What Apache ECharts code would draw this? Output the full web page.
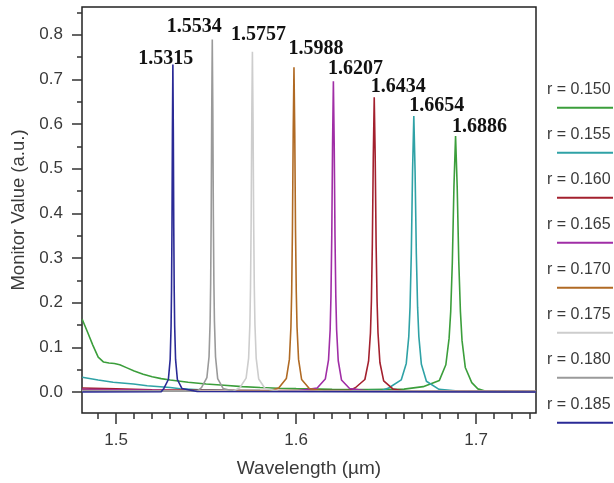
<!DOCTYPE html>
<html>
<head>
<meta charset="utf-8">
<script src="https://cdn.jsdelivr.net/npm/echarts@6/dist/echarts.min.js"></script>
<style>
html,body{margin:0;padding:0;background:#fff;}
#chart{width:614px;height:483px;}
</style>
</head>
<body>
<div id="chart"></div>
<script>
// ---------------- data ----------------
const seriesNames = ['r = 0.150','r = 0.155','r = 0.160','r = 0.165','r = 0.170','r = 0.175','r = 0.180','r = 0.185'];
const peakLabels  = ['1.6886','1.6654','1.6434','1.6207','1.5988','1.5757','1.5534','1.5315'];
const xTickLabels = [1.5, 1.6, 1.7];
const xMinorTicks = [1.49,1.51,1.52,1.53,1.54,1.55,1.56,1.57,1.58,1.59,1.61,1.62,1.63,1.64,1.65,1.66,1.67,1.68,1.69,1.71,1.72,1.73];
const yTickLabels = [0.0,0.1,0.2,0.3,0.4,0.5,0.6,0.7,0.8];
const yMinorTicks = [0.05,0.15,0.25,0.35,0.45,0.55,0.65,0.75,0.85];

const r150 = [[1.4811,0.163],[1.4840,0.135],[1.4870,0.105],[1.4900,0.078],[1.4930,0.067],[1.4960,0.065],[1.4990,0.064],[1.5020,0.061],[1.5060,0.054],[1.5100,0.047],[1.5150,0.040],[1.5200,0.034],[1.5250,0.030],[1.5300,0.027],[1.5400,0.022],[1.5500,0.018],[1.5600,0.015],[1.5700,0.012],[1.5800,0.010],[1.5900,0.0085],[1.6000,0.0075],[1.6200,0.006],[1.6400,0.0055],[1.6600,0.0065],[1.6706,0.012],[1.6796,0.026],[1.6832,0.061],[1.6850,0.12],[1.6859,0.18],[1.6868,0.29],[1.6877,0.46],[1.6886,0.573],[1.6895,0.46],[1.6904,0.29],[1.6913,0.18],[1.6922,0.115],[1.6940,0.055],[1.6976,0.021],[1.7010,0.007],[1.7050,0.002],[1.7100,0.001],[1.7333,0.001]];
const r155 = [[1.4811,0.033],[1.4900,0.027],[1.4983,0.022],[1.5096,0.018],[1.5172,0.014],[1.5300,0.010],[1.5356,0.0074],[1.5467,0.005],[1.5600,0.004],[1.5800,0.003],[1.6000,0.0025],[1.6200,0.0025],[1.6400,0.003],[1.6480,0.004],[1.6514,0.009],[1.6584,0.027],[1.6612,0.064],[1.6626,0.124],[1.6633,0.19],[1.6640,0.309],[1.6647,0.494],[1.6654,0.618],[1.6661,0.494],[1.6668,0.309],[1.6675,0.19],[1.6682,0.124],[1.6696,0.062],[1.6724,0.024],[1.6794,0.006],[1.6900,0.002],[1.7333,0.001]];
const r160 = [[1.4811,0.009],[1.5000,0.007],[1.5200,0.005],[1.5500,0.004],[1.5800,0.003],[1.6000,0.003],[1.6200,0.003],[1.6300,0.004],[1.6329,0.0095],[1.6382,0.028],[1.64025,0.069],[1.6413,0.132],[1.64183,0.203],[1.64235,0.33],[1.64288,0.528],[1.6434,0.66],[1.64393,0.528],[1.64445,0.33],[1.64498,0.203],[1.6455,0.132],[1.64655,0.066],[1.64865,0.025],[1.6539,0.0065],[1.6600,0.002],[1.7333,0.001]];
const r165 = [[1.4811,0.006],[1.5000,0.005],[1.5300,0.003],[1.5600,0.002],[1.6000,0.002],[1.6117,0.009],[1.6162,0.029],[1.6180,0.072],[1.6189,0.139],[1.61935,0.214],[1.6198,0.348],[1.62025,0.557],[1.6207,0.696],[1.62115,0.557],[1.6216,0.348],[1.62205,0.214],[1.6225,0.139],[1.6234,0.07],[1.6252,0.027],[1.6297,0.008],[1.6400,0.002],[1.7333,0.001]];
const r170 = [[1.4811,0.003],[1.5500,0.002],[1.5850,0.002],[1.5903,0.009],[1.59455,0.03],[1.59625,0.073],[1.5971,0.145],[1.59753,0.224],[1.59795,0.364],[1.59838,0.582],[1.5988,0.727],[1.59923,0.582],[1.59965,0.364],[1.60008,0.224],[1.6005,0.145],[1.60135,0.073],[1.60305,0.028],[1.6073,0.008],[1.6150,0.002],[1.7333,0.001]];
const r175 = [[1.4811,0.002],[1.5650,0.002],[1.5687,0.0095],[1.5722,0.031],[1.5736,0.076],[1.5743,0.152],[1.57465,0.235],[1.5750,0.381],[1.57535,0.61],[1.5757,0.762],[1.57605,0.61],[1.5764,0.381],[1.57675,0.235],[1.5771,0.152],[1.5778,0.076],[1.5792,0.029],[1.5827,0.008],[1.5900,0.002],[1.7333,0.001]];
const r180 = [[1.4811,0.002],[1.5450,0.002],[1.5474,0.0098],[1.5504,0.032],[1.5516,0.079],[1.5522,0.158],[1.5525,0.243],[1.5528,0.395],[1.5531,0.631],[1.5534,0.789],[1.5537,0.631],[1.5540,0.395],[1.5543,0.243],[1.5546,0.158],[1.5552,0.079],[1.5564,0.03],[1.5594,0.008],[1.5650,0.002],[1.7333,0.001]];
const r185 = [[1.4811,0.0],[1.5250,0.0005],[1.5265,0.008],[1.5290,0.028],[1.5300,0.073],[1.5305,0.147],[1.53075,0.226],[1.5310,0.367],[1.53125,0.586],[1.5315,0.733],[1.53175,0.586],[1.5320,0.367],[1.53225,0.226],[1.5325,0.147],[1.5330,0.073],[1.5340,0.028],[1.5365,0.008],[1.5450,0.001],[1.7333,0.0]];
const seriesData = [r150, r155, r160, r165, r170, r175, r180, r185];

// ---------------- style ----------------
const colors = ['#3b9e3b','#2fa2a6','#a3202e','#a02ea6','#b06a24','#cdcdcd','#9a9a9a','#2a2a96'];
const labelOffsets = [[24,-9],[23,-10],[24,-10],[22,-12],[22,-18],[6,-17],[-18,-13],[-7,-6]];
const axisFont = 'Liberation Sans, Arial, sans-serif';
const textColor = '#3a3a3a';

const series = seriesData.map(function (d, i) {
  let peak = 0;
  d.forEach(function (p, j) { if (p[1] > d[peak][1]) peak = j; });
  const data = d.map(function (p, j) {
    if (j !== peak) return { value: p };
    return {
      value: p,
      label: {
        show: true,
        formatter: peakLabels[i],
        position: 'top',
        distance: 0,
        align: 'center',
        verticalAlign: 'middle',
        offset: labelOffsets[i],
        fontFamily: 'Liberation Serif, Times New Roman, serif',
        fontWeight: 'bold',
        fontSize: 20,
        color: '#111'
      }
    };
  });
  return {
    name: seriesNames[i],
    type: 'line',
    xAxisIndex: 0,
    yAxisIndex: 0,
    data: data,
    showSymbol: true,
    symbol: 'circle',
    symbolSize: 0,
    itemStyle: { color: colors[i] },
    lineStyle: { color: colors[i], width: 1.6 },
    label: { show: false },
    emphasis: { disabled: true },
    z: 2 + i
  };
});

const legendGraphics = [];
seriesNames.forEach(function (n, i) {
  legendGraphics.push({
    type: 'text', left: 547, top: 90.7 + 45 * i - 9,
    style: { text: n, fontSize: 16, fontFamily: axisFont, fill: textColor }
  });
  legendGraphics.push({
    type: 'line',
    shape: { x1: 557, y1: 107.7 + 45 * i, x2: 613, y2: 107.7 + 45 * i },
    style: { stroke: colors[i], lineWidth: 2 }
  });
});

const chart = echarts.init(document.getElementById('chart'), null, { renderer: 'canvas' });
chart.setOption({
  animation: false,
  backgroundColor: '#fff',
  grid: { left: 82, top: 7, right: 78, bottom: 67, show: true, borderColor: '#222', borderWidth: 1.5, backgroundColor: 'transparent' },
  xAxis: [{
    type: 'value', min: 1.481, max: 1.7333,
    name: 'Wavelength (\u00b5m)', nameLocation: 'middle', nameGap: 46,
    nameTextStyle: { fontFamily: axisFont, fontSize: 19, color: textColor },
    axisLine: { show: false, onZero: false },
    axisTick: { show: true, customValues: xTickLabels, length: 11, lineStyle: { color: '#333', width: 1.5 } },
    axisLabel: { show: true, customValues: xTickLabels, margin: 19, fontFamily: axisFont, fontSize: 17, color: textColor, formatter: function (v) { return v.toFixed(1); } },
    splitLine: { show: false }
  }, {
    type: 'value', min: 1.481, max: 1.7333, position: 'bottom',
    axisLine: { show: false, onZero: false },
    axisTick: { show: true, customValues: xMinorTicks, length: 6, lineStyle: { color: '#333', width: 1.5 } },
    axisLabel: { show: false },
    splitLine: { show: false }
  }],
  yAxis: [{
    type: 'value', min: -0.047, max: 0.862,
    name: 'Monitor Value (a.u.)', nameLocation: 'middle', nameGap: 54,
    nameTextStyle: { fontFamily: axisFont, fontSize: 18.5, color: textColor },
    axisLine: { show: false, onZero: false },
    axisTick: { show: true, customValues: yTickLabels, length: 10, lineStyle: { color: '#333', width: 1.5 } },
    axisLabel: { show: true, customValues: yTickLabels, margin: 19, fontFamily: axisFont, fontSize: 17, color: textColor, formatter: function (v) { return v.toFixed(1); } },
    splitLine: { show: false }
  }, {
    type: 'value', min: -0.047, max: 0.862, position: 'left',
    axisLine: { show: false, onZero: false },
    axisTick: { show: true, customValues: yMinorTicks, length: 5, lineStyle: { color: '#333', width: 1.5 } },
    axisLabel: { show: false },
    splitLine: { show: false }
  }],
  series: series,
  graphic: legendGraphics
});
</script>
</body>
</html>
